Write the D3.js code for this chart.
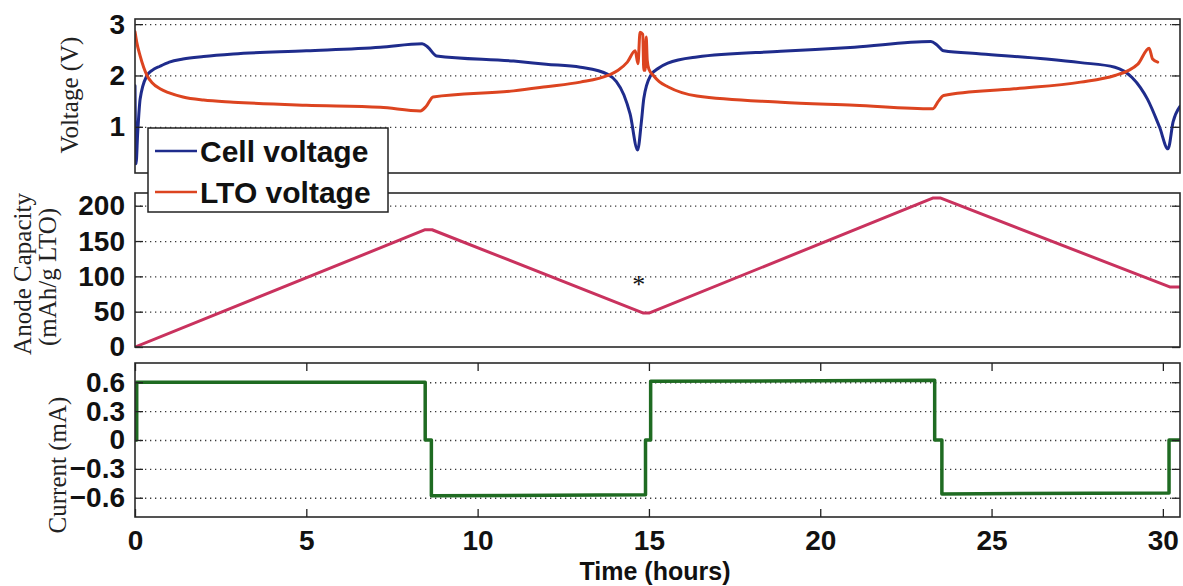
<!DOCTYPE html>
<html>
<head>
<meta charset="utf-8">
<script src="https://cdn.jsdelivr.net/npm/d3@7"></script>
<style>
  body { margin: 0; background: #fff; }
  svg { display: block; }
  .tick text { font-family: "Liberation Sans", Arial, sans-serif; font-weight: bold; font-size: 28px; fill: #111; }
  .ticks line { stroke: #222; stroke-width: 1.3; }
  .grid line { stroke: #3a3a3a; stroke-width: 1.3; stroke-dasharray: 1.3 3.7; }
  .frame { fill: none; stroke: #2a2a2a; stroke-width: 1.6; }
  .ylab { font-family: "Liberation Serif", "Times New Roman", serif; font-size: 25px; fill: #222; }
</style>
</head>
<body>
<svg id="chart" width="1183" height="586"></svg>
<script>
// ---- Cell voltage (V) vs time (hours)
const cellTime = [0, 0.03, 0.08, 0.15, 0.35, 0.5, 0.73, 1.0, 1.4, 2.0, 2.87, 5.0, 7.16, 8.38, 8.55, 8.8, 11.05, 12.0, 13.0, 13.8, 14.05, 14.27, 14.45, 14.67, 14.78, 14.85, 15.05, 15.3, 15.55, 16.4, 18.85, 21.0, 23.23, 23.4, 23.6, 24.7, 26.6, 27.6, 28.6, 29.1, 29.35, 29.55, 29.9, 30.15, 30.3, 30.5];
const cellVoltage = [1.8, 0.28, 0.9, 1.54, 2.0, 2.1, 2.18, 2.26, 2.32, 2.37, 2.42, 2.48, 2.55, 2.62, 2.55, 2.38, 2.28, 2.22, 2.16, 2.02, 1.88, 1.62, 1.25, 0.55, 1.1, 1.55, 2.0, 2.15, 2.24, 2.36, 2.47, 2.55, 2.66, 2.6, 2.48, 2.42, 2.32, 2.25, 2.16, 1.96, 1.76, 1.54, 1.0, 0.57, 1.1, 1.4];

// ---- LTO electrode voltage (V) vs time (hours)
const ltoTime = [0, 0.05, 0.15, 0.35, 0.5, 0.73, 1.0, 1.4, 2.0, 2.87, 5.0, 7.16, 8.33, 8.5, 8.7, 11.05, 12.0, 13.0, 13.8, 14.1, 14.37, 14.6, 14.68, 14.74, 14.82, 14.85, 14.89, 14.92, 14.95, 15.0, 15.13, 15.3, 15.55, 16.4, 18.85, 21.0, 23.28, 23.45, 23.6, 25.66, 27.6, 28.6, 29.0, 29.27, 29.6, 29.7, 29.85];
const ltoVoltage = [2.85, 2.65, 2.38, 2.0, 1.86, 1.74, 1.66, 1.58, 1.52, 1.48, 1.42, 1.38, 1.31, 1.4, 1.58, 1.7, 1.78, 1.87, 2.0, 2.1, 2.26, 2.48, 2.23, 2.84, 2.8, 2.1, 2.1, 2.75, 2.3, 2.12, 2.0, 1.88, 1.78, 1.6, 1.48, 1.42, 1.35, 1.5, 1.61, 1.74, 1.87, 2.0, 2.1, 2.22, 2.53, 2.32, 2.26];

// ---- Anode capacity (mAh/g LTO) vs time (hours)
const capTime = [0, 8.47, 8.67, 14.84, 15.0, 23.3, 23.5, 30.2, 30.5];
const capValue = [0, 166, 166, 48, 48, 211, 211, 85, 85];

// ---- Current (mA) vs time (hours)
const curTime = [0, 0.05, 0.05, 8.47, 8.47, 8.65, 8.65, 14.9, 14.9, 15.05, 15.05, 23.34, 23.34, 23.55, 23.55, 30.18, 30.18, 30.5];
const curValue = [0, 0, 0.6, 0.6, 0, 0, -0.58, -0.57, 0, 0, 0.61, 0.62, 0, 0, -0.56, -0.55, 0, 0];

// ---- Axis ticks
const timeTicks = [0, 5, 10, 15, 20, 25, 30];
const voltTicks = [1, 2, 3];
const capTicks = [0, 50, 100, 150, 200];
const curTicks = [-0.6, -0.3, 0, 0.3, 0.6];

const svg = d3.select("#chart");
const left = 135, right = 1180;

const x = d3.scaleLinear().domain([0, 30.5]).range([left, right]);

const panels = [
  { top: 19,  bottom: 173, domain: [0.1, 3.1],  ticks: voltTicks, fmt: d3.format("d"), grid: [1, 2, 3] },
  { top: 193, bottom: 347, domain: [0, 218],    ticks: capTicks,  fmt: d3.format("d"), grid: [50, 100, 150, 200] },
  { top: 363, bottom: 517, domain: [-0.8, 0.8], ticks: curTicks,  fmt: d => d === 0 ? "0" : d3.format(".1f")(d), grid: curTicks }
];

panels.forEach(p => {
  p.y = d3.scaleLinear().domain(p.domain).range([p.bottom, p.top]);
  // dotted horizontal grid
  svg.append("g").attr("class", "grid")
    .attr("transform", `translate(${left},0)`)
    .call(d3.axisLeft(p.y).tickValues(p.grid).tickSize(-(right - left)).tickFormat(""))
    .call(g => g.select(".domain").remove());
});

// clip paths per panel
panels.forEach((p, i) => {
  svg.append("clipPath").attr("id", "clip" + i)
    .append("rect").attr("x", left).attr("y", p.top).attr("width", right - left).attr("height", p.bottom - p.top);
});

function drawLine(panelIdx, xs, ys, color, width, curve) {
  const p = panels[panelIdx];
  const pts = xs.map((t, i) => [t, ys[i]]);
  svg.append("path")
    .attr("clip-path", `url(#clip${panelIdx})`)
    .attr("d", d3.line().curve(curve).x(d => x(d[0])).y(d => p.y(d[1]))(pts))
    .attr("fill", "none").attr("stroke", color).attr("stroke-width", width)
    .attr("stroke-linejoin", "round").attr("stroke-linecap", "round");
}

const blue = "#1f2c8c", red = "#dc4420", pink = "#c9325e", green = "#1f6b22";

drawLine(0, cellTime, cellVoltage, blue, 3, d3.curveMonotoneX);
drawLine(0, ltoTime, ltoVoltage, red, 3, d3.curveMonotoneX);
drawLine(1, capTime, capValue, pink, 3, d3.curveLinear);
drawLine(2, curTime, curValue, green, 3.5, d3.curveLinear);

// frames and inward ticks
panels.forEach((p, i) => {
  svg.append("g").attr("class", "ticks")
    .attr("transform", `translate(${left},0)`)
    .call(d3.axisLeft(p.y).tickValues(p.ticks).tickSize(-8).tickPadding(10).tickFormat(p.fmt))
    .call(g => g.select(".domain").remove());
  svg.append("g").attr("class", "ticks")
    .attr("transform", `translate(${right},0)`)
    .call(d3.axisRight(p.y).tickValues(p.ticks).tickSize(-8).tickFormat(""))
    .call(g => g.select(".domain").remove());
  svg.append("rect").attr("class", "frame")
    .attr("x", left).attr("y", p.top).attr("width", right - left).attr("height", p.bottom - p.top);
});

// time axis on the bottom panel (ticks at top and bottom edges)
const pb = panels[2];
svg.append("g").attr("class", "ticks")
  .attr("transform", `translate(0,${pb.bottom})`)
  .call(d3.axisBottom(x).tickValues(timeTicks).tickSize(-8).tickPadding(13).tickFormat(d3.format("d")))
  .call(g => g.select(".domain").remove());
svg.append("g").attr("class", "ticks")
  .attr("transform", `translate(0,${pb.top})`)
  .call(d3.axisTop(x).tickValues(timeTicks).tickSize(-8).tickFormat(""))
  .call(g => g.select(".domain").remove());

// axis titles
svg.append("text").attr("class", "ylab")
  .attr("transform", "translate(78,95) rotate(-90)").attr("text-anchor", "middle")
  .text("Voltage (V)");
svg.append("text").attr("class", "ylab")
  .attr("transform", "translate(31,274) rotate(-90)").attr("text-anchor", "middle")
  .text("Anode Capacity");
svg.append("text").attr("class", "ylab")
  .attr("transform", "translate(56,277) rotate(-90)").attr("text-anchor", "middle")
  .text("(mAh/g LTO)");
svg.append("text").attr("class", "ylab")
  .attr("transform", "translate(66,465) rotate(-90)").attr("text-anchor", "middle")
  .text("Current (mA)");
svg.append("text")
  .attr("x", 655).attr("y", 580).attr("text-anchor", "middle")
  .style("font-family", '"Liberation Sans", Arial, sans-serif').style("font-weight", "bold")
  .style("font-size", "25px").style("fill", "#111")
  .text("Time (hours)");

// asterisk marking the capacity minimum
svg.append("text")
  .attr("x", x(14.7)).attr("y", 293).attr("text-anchor", "middle")
  .style("font-family", '"Liberation Serif", serif').style("font-size", "26px").style("fill", "#111")
  .text("*");

// legend
const legendItems = [
  { label: "Cell voltage", color: blue },
  { label: "LTO voltage", color: red }
];
const lg = svg.append("g");
lg.append("rect").attr("x", 148).attr("y", 128).attr("width", 240).attr("height", 84)
  .attr("fill", "#fff").attr("stroke", "#222").attr("stroke-width", 1.5);
legendItems.forEach((item, i) => {
  const yy = 151 + i * 41;
  lg.append("line").attr("x1", 155).attr("x2", 197).attr("y1", yy).attr("y2", yy)
    .attr("stroke", item.color).attr("stroke-width", 2.5);
  lg.append("text").attr("x", 200).attr("y", yy + 11)
    .style("font-family", '"Liberation Sans", Arial, sans-serif').style("font-weight", "bold")
    .style("font-size", "30px").style("fill", "#111")
    .text(item.label);
});
</script>
</body>
</html>
